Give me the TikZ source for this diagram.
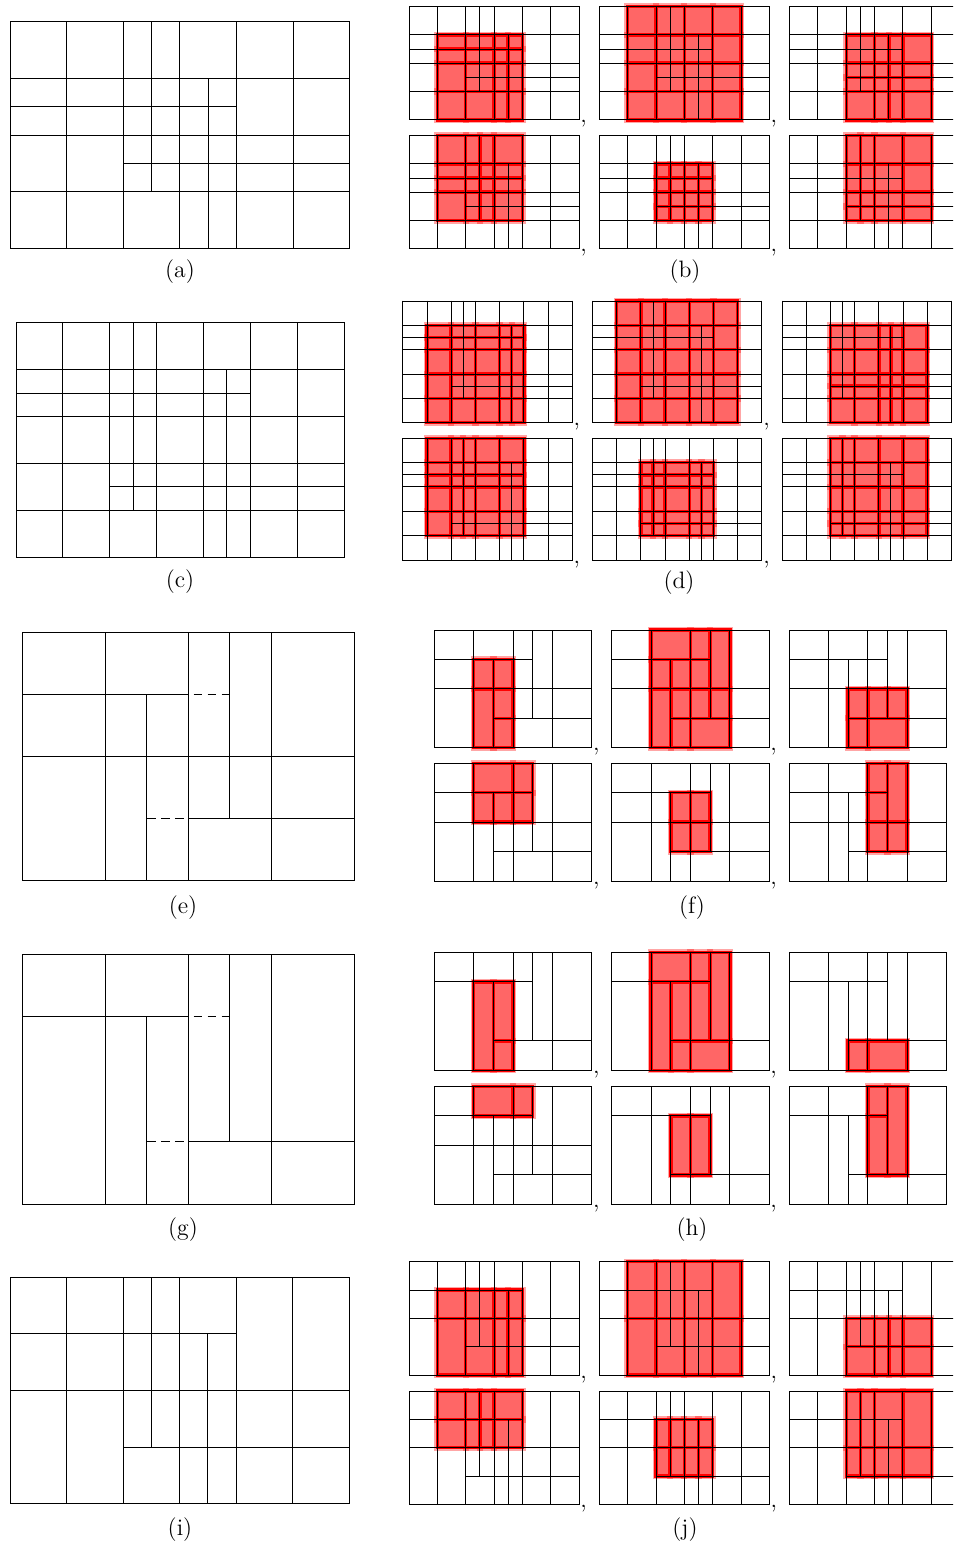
\documentclass[tikz,border=0pt]{standalone}
\usepackage{fontspec}
\usepackage{tikz}

% meshes, in grid units (x to the right, y downwards)
\newcommand{\meshAB}{%
  \foreach \xa/\ya/\xb/\yb in {0/0/0/8,2/0/2/8,4/0/4/8,5/0/5/6,6/0/6/8,7/2/7/8,8/0/8/8,10/0/10/8,12/0/12/8,
      0/0/12/0,0/2/12/2,0/3/8/3,0/4/12/4,4/5/12/5,0/6/12/6,0/8/12/8}
    \draw[mesh] (\xa,\ya) -- (\xb,\yb);}
\newcommand{\meshCD}{%
  \foreach \xa/\ya/\xb/\yb in {0/0/0/10,2/0/2/10,4/0/4/10,5/0/5/8,6/0/6/10,8/0/8/10,9/2/9/10,10/0/10/10,12/0/12/10,14/0/14/10,
      0/0/14/0,0/2/14/2,0/3/10/3,0/4/14/4,0/6/14/6,4/7/14/7,0/8/14/8,0/10/14/10}
    \draw[mesh] (\xa,\ya) -- (\xb,\yb);}
\newcommand{\meshE}{%
  \foreach \xa/\ya/\xb/\yb in {0/0/0/4,2/0/2/4,3/1/3/4,4/0/4/4,5/0/5/3,6/0/6/4,8/0/8/4,
      0/0/8/0,0/1/4/1,0/2/8/2,4/3/8/3,0/4/8/4}
    \draw[mesh] (\xa,\ya) -- (\xb,\yb);
  \draw[ext] (4,1) -- (5,1);
  \draw[ext,dash phase=0pt] (3,3) -- (4,3);}
\newcommand{\meshF}{%
  \foreach \xa/\ya/\xb/\yb in {0/0/0/4,2/0/2/4,3/1/3/4,4/0/4/4,5/0/5/3,6/0/6/4,8/0/8/4,
      0/0/8/0,0/1/5/1,0/2/8/2,3/3/8/3,0/4/8/4}
    \draw[mesh] (\xa,\ya) -- (\xb,\yb);}
\newcommand{\meshG}{%
  \foreach \xa/\ya/\xb/\yb in {0/0/0/4,2/0/2/4,3/1/3/4,4/0/4/4,5/0/5/3,6/0/6/4,8/0/8/4,
      0/0/8/0,0/1/4/1,4/3/8/3,0/4/8/4}
    \draw[mesh] (\xa,\ya) -- (\xb,\yb);
  \draw[ext] (4,1) -- (5,1);
  \draw[ext,dash phase=0pt] (3,3) -- (4,3);}
\newcommand{\meshH}{%
  \foreach \xa/\ya/\xb/\yb in {0/0/0/4,2/0/2/4,3/1/3/4,4/0/4/4,5/0/5/3,6/0/6/4,8/0/8/4,
      0/0/8/0,0/1/5/1,3/3/8/3,0/4/8/4}
    \draw[mesh] (\xa,\ya) -- (\xb,\yb);}
\newcommand{\meshIJ}{%
  \foreach \xa/\ya/\xb/\yb in {0/0/0/8,2/0/2/8,4/0/4/8,5/0/5/6,6/0/6/8,7/2/7/8,8/0/8/8,10/0/10/8,12/0/12/8,
      0/0/12/0,0/2/8/2,0/4/12/4,4/6/12/6,0/8/12/8}
    \draw[mesh] (\xa,\ya) -- (\xb,\yb);}

% red supports: tensor cells, or a list of cells (halo, fill, border passes)
\newcommand{\tcells}[3]{%
  \foreach \xa/\xb in {#2}{\foreach \ya/\yb in {#3}{\path[#1] (\xa,\ya) rectangle (\xb,\yb);}}}
\newcommand{\tpatch}[2]{\tcells{halo}{#1}{#2}\tcells{cellfill}{#1}{#2}\tcells{cellline}{#1}{#2}}
\newcommand{\ccells}[2]{%
  \foreach \xa/\ya/\xb/\yb in {#2}{\path[#1] (\xa,\ya) rectangle (\xb,\yb);}}
\newcommand{\cpatch}[1]{\ccells{halo}{#1}\ccells{cellfill}{#1}\ccells{cellline}{#1}}
\newcommand{\tgrid}[7]{%
  \begin{scope}[shift={(#1,#2)},xscale=#3,yscale=#4]\tpatch{#6}{#7}#5\end{scope}}
\newcommand{\cgrid}[6]{%
  \begin{scope}[shift={(#1,#2)},xscale=#3,yscale=#4]\cpatch{#6}#5\end{scope}}

\begin{document}
\begin{tikzpicture}[x=0.02cm,y=-0.02cm,
  mesh/.style={black,line width=0.55pt,line cap=rect},
  ext/.style={black,line width=0.55pt,dash pattern=on 5pt off 3pt,dash phase=5pt},
  halo/.style={draw=red,draw opacity=0.35,line width=3.6pt},
  cellfill/.style={fill=red!60},
  cellline/.style={draw=red,line width=2pt},
  lbl/.style={font=\fontsize{13.5}{16}\selectfont},
  sep/.style={anchor=base west,inner sep=0pt,font=\fontsize{13.5}{16}\selectfont},
]
  \useasboundingbox (0,0) rectangle (953,1547);
  \clip (0,0) rectangle (953,1547);

  % (a) and (b)
  \begin{scope}[shift={(10,21.7)},scale=28.33] \meshAB \end{scope}
  \tgrid{409}{6.5}{14.17}{14.17}{\meshAB}{2/4,4/6,6/7,7/8}{2/3,3/4,4/6,6/8}
  \tgrid{599.3}{6.5}{14.17}{14.17}{\meshAB}{2/4,4/6,6/8,8/10}{0/2,2/4,4/6,6/8}
  \tgrid{789.6}{6.5}{14.17}{14.17}{\meshAB}{4/6,6/7,7/8,8/10}{2/4,4/5,5/6,6/8}
  \tgrid{409}{135.5}{14.17}{14.17}{\meshAB}{2/4,4/5,5/6,6/8}{0/2,2/3,3/4,4/6}
  \tgrid{599.3}{135.5}{14.17}{14.17}{\meshAB}{4/5,5/6,6/7,7/8}{2/3,3/4,4/5,5/6}
  \tgrid{789.6}{135.5}{14.17}{14.17}{\meshAB}{4/5,5/6,6/8,8/10}{0/2,2/4,4/5,5/6}
  \node[sep] (cb1) at (580,122.8) {,};
  \node[sep] (cb2) at (770.3,122.8) {,};
  \node[sep] (cb3) at (580,251.8) {,};
  \node[sep] (cb4) at (770.3,251.8) {,};
  \node[lbl] (la) at (180,272) {(a)};
  \node[lbl] (lb) at (685,272) {(b)};

  % (c) and (d)
  \begin{scope}[shift={(16,322.7)},scale=23.43] \meshCD \end{scope}
  \tgrid{402.8}{301}{12.1}{12.17}{\meshCD}{2/4,4/6,6/8,8/9,9/10}{2/3,3/4,4/6,6/8,8/10}
  \tgrid{592.5}{301}{12.1}{12.17}{\meshCD}{2/4,4/6,6/8,8/10,10/12}{0/2,2/4,4/6,6/8,8/10}
  \tgrid{782}{301}{12.1}{12.17}{\meshCD}{4/6,6/8,8/9,9/10,10/12}{2/4,4/6,6/7,7/8,8/10}
  \tgrid{402.8}{438.3}{12.1}{12.17}{\meshCD}{2/4,4/5,5/6,6/8,8/10}{0/2,2/3,3/4,4/6,6/8}
  \tgrid{592.5}{438.3}{12.1}{12.17}{\meshCD}{4/5,5/6,6/8,8/9,9/10}{2/3,3/4,4/6,6/7,7/8}
  \tgrid{782}{438.3}{12.1}{12.17}{\meshCD}{4/5,5/6,6/8,8/10,10/12}{0/2,2/4,4/6,6/7,7/8}
  \node[sep] (cd1) at (573.2,425.7) {,};
  \node[sep] (cd2) at (762.9,425.7) {,};
  \node[sep] (cd3) at (573.2,563) {,};
  \node[sep] (cd4) at (762.9,563) {,};
  \node[lbl] (lc) at (180,582) {(c)};
  \node[lbl] (ld) at (679,583) {(d)};

  % (e) and (f)
  \begin{scope}[shift={(22.3,632.3)},xscale=41.5,yscale=62.1] \meshE \end{scope}
  \cgrid{434.4}{630}{19.66}{29.43}{\meshF}{2/1/3/2,2/2/3/4,3/1/4/2,3/2/4/3,3/3/4/4}
  \cgrid{611.8}{630}{19.66}{29.43}{\meshF}{2/0/4/1,4/0/5/1,5/0/6/2,2/1/3/2,3/1/4/2,4/1/5/2,2/2/3/4,3/2/4/3,4/2/5/3,5/2/6/3,3/3/4/4,4/3/6/4}
  \cgrid{789.2}{630}{19.66}{29.43}{\meshF}{3/2/4/3,4/2/5/3,5/2/6/3,3/3/4/4,4/3/6/4}
  \cgrid{434.4}{763.3}{19.66}{29.43}{\meshF}{2/0/4/1,4/0/5/1,2/1/3/2,3/1/4/2,4/1/5/2}
  \cgrid{611.8}{763.3}{19.66}{29.43}{\meshF}{3/1/4/2,4/1/5/2,3/2/4/3,4/2/5/3}
  \cgrid{789.2}{763.3}{19.66}{29.43}{\meshF}{4/0/5/1,5/0/6/2,4/1/5/2,4/2/5/3,5/2/6/3}
  \node[sep] (cf1) at (592.7,750.7) {,};
  \node[sep] (cf2) at (770.1,750.7) {,};
  \node[sep] (cf3) at (592.7,884) {,};
  \node[sep] (cf4) at (770.1,884) {,};
  \node[lbl] (le) at (183,908) {(e)};
  \node[lbl] (lf) at (692,908) {(f)};

  % (g) and (h)
  \begin{scope}[shift={(22.3,954.3)},xscale=41.5,yscale=62.5] \meshG \end{scope}
  \cgrid{434.4}{952.3}{19.66}{29.5}{\meshH}{2/1/3/4,3/1/4/3,3/3/4/4}
  \cgrid{611.8}{952.3}{19.66}{29.5}{\meshH}{2/0/4/1,4/0/5/1,5/0/6/3,2/1/3/4,3/1/4/3,3/3/4/4,4/1/5/3,4/3/6/4}
  \cgrid{789.2}{952.3}{19.66}{29.5}{\meshH}{3/3/4/4,4/3/6/4}
  \cgrid{434.4}{1086.3}{19.66}{29.5}{\meshF}{2/0/4/1,4/0/5/1}
  \cgrid{611.8}{1086.3}{19.66}{29.5}{\meshH}{3/1/4/3,4/1/5/3}
  \cgrid{789.2}{1086.3}{19.66}{29.5}{\meshH}{4/0/5/1,4/1/5/3,5/0/6/3}
  \node[sep] (ch1) at (592.7,1073.3) {,};
  \node[sep] (ch2) at (770.1,1073.3) {,};
  \node[sep] (ch3) at (592.7,1207) {,};
  \node[sep] (ch4) at (770.1,1207) {,};
  \node[lbl] (lg) at (183,1230) {(g)};
  \node[lbl] (lh) at (692,1230) {(h)};

  % (i) and (j)
  \begin{scope}[shift={(10,1277.3)},scale=28.28] \meshIJ \end{scope}
  \tgrid{409}{1261.7}{14.17}{14.17}{\meshIJ}{2/4,4/6,6/7,7/8}{2/4,4/8}
  \tgrid{599.3}{1261.7}{14.17}{14.17}{\meshIJ}{2/4,4/6,6/8,8/10}{0/4,4/8}
  \tgrid{789.6}{1261.7}{14.17}{14.17}{\meshIJ}{4/6,6/7,7/8,8/10}{4/6,6/8}
  \tgrid{409}{1391}{14.17}{14.17}{\meshIJ}{2/4,4/5,5/6,6/8}{0/2,2/4}
  \tgrid{599.3}{1391}{14.17}{14.17}{\meshIJ}{4/5,5/6,6/7,7/8}{2/4,4/6}
  \tgrid{789.6}{1391}{14.17}{14.17}{\meshIJ}{4/5,5/6,6/8,8/10}{0/4,4/6}
  \node[sep] (cj1) at (580,1378) {,};
  \node[sep] (cj2) at (770.3,1378) {,};
  \node[sep] (cj3) at (580,1507.3) {,};
  \node[sep] (cj4) at (770.3,1507.3) {,};
  \node[lbl] (li) at (180,1530) {(i)};
  \node[lbl] (lj) at (685,1530) {(j)};
\end{tikzpicture}
\end{document}
